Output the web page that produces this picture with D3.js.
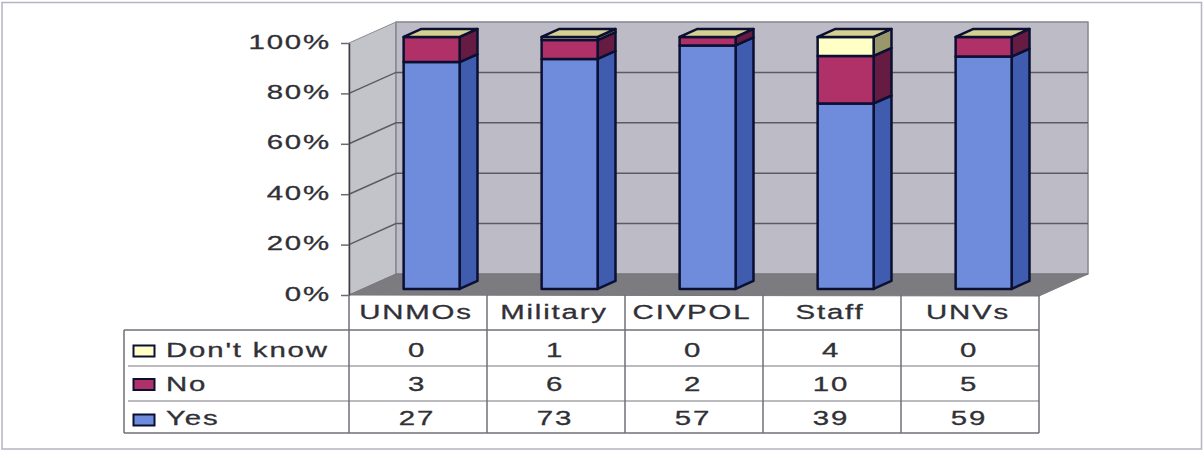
<!DOCTYPE html>
<html>
<head>
<meta charset="utf-8">
<style>
html,body{margin:0;padding:0;background:#fff;}
svg{display:block;}
text{font-family:"Liberation Sans",Arial,sans-serif;font-size:20px;fill:#303036;stroke:#303036;stroke-width:0.3px;letter-spacing:1.25px;}
</style>
<script src="https://cdn.jsdelivr.net/npm/d3@7/dist/d3.min.js"></script>
</head>
<body>
<svg id="chart" width="1203" height="451"></svg>
<script>
// Survey responses by personnel group
const categories = ["UNMOs", "Military", "CIVPOL", "Staff", "UNVs"];
const yesValues = [27, 73, 57, 39, 59];
const noValues = [3, 6, 2, 10, 5];
const dontKnowValues = [0, 1, 0, 4, 0];
const seriesNames = ["Yes", "No", "Don't know"];
const percentTicks = [0, 20, 40, 60, 80, 100];

const frontColors = {"Yes": "#6f8bdc", "No": "#b03068", "Don't know": "#ffffc6"};
const sideColors = {"Yes": "#3f5cae", "No": "#661c42", "Don't know": "#99986a"};
const topColor = "#d6d190";
const ink = "#0b1033";
const rule = "#6f6f78";

const svg = d3.select("#chart");

// Plot box: front plane plus the oblique depth vector of the 3-D walls
const plotLeft = 349, plotRight = 1039, plotBase = 295, plotTop = 43;
const depthX = 47, depthY = -21;
const barInset = 0.29, barDepth = 0.38, barWidth = 56;

const x = d3.scaleBand().domain(categories).range([plotLeft, plotRight]);
const y = d3.scaleLinear().domain([0, 100]).range([plotBase, plotTop]);

const poly = (pts, fill, stroke, width) => svg.append("polygon")
  .attr("points", pts.map(p => p.join(",")).join(" "))
  .attr("fill", fill)
  .attr("stroke", stroke || "none")
  .attr("stroke-width", width || 0)
  .attr("stroke-linejoin", "round");

// Page frame
svg.append("rect").attr("x", 2).attr("y", 2.5).attr("width", 1199.5).attr("height", 446.5)
  .attr("fill", "none").attr("stroke", "#b4b4c2").attr("stroke-width", 1.5);

// Walls and floor
poly([[plotLeft, y(0)], [plotLeft + depthX, y(0) + depthY], [plotLeft + depthX, y(100) + depthY], [plotLeft, y(100)]], "#c3c3ca", "#8b8b93", 1);
poly([[plotLeft + depthX, y(0) + depthY], [plotRight + depthX + 2, y(0) + depthY], [plotRight + depthX + 2, y(100) + depthY], [plotLeft + depthX, y(100) + depthY]], "#bdbcc6", "#85858e", 1.5);
poly([[plotLeft, y(0)], [plotRight, y(0) + 1], [plotRight + depthX + 2, y(0) + depthY], [plotLeft + depthX, y(0) + depthY]], "#7c7b80", "#77777c", 1);

// Gridlines wrap from the left wall onto the back wall
percentTicks.filter(t => t > 0 && t < 100).forEach(t => {
  svg.append("polyline")
    .attr("points", [[plotLeft, y(t)], [plotLeft + depthX, y(t) + depthY], [plotRight + depthX + 2, y(t) + depthY]].map(p => p.join(",")).join(" "))
    .attr("fill", "none").attr("stroke", "#5b5b62").attr("stroke-width", 1.5);
});

// Percentage axis
const axis = d3.axisLeft(y).tickValues(percentTicks).tickSize(8).tickSizeOuter(0).tickFormat(d => d + "%");
const axisG = svg.append("g").attr("transform", `translate(${plotLeft},0)`).call(axis);
axisG.attr("font-size", null).attr("font-family", null);
axisG.select(".domain").attr("stroke", "#3c3c44").attr("stroke-width", 1.5);
axisG.selectAll(".tick line").attr("stroke", "#6a6a72").attr("stroke-width", 1.5);
axisG.selectAll(".tick text")
  .attr("x", 0).attr("dy", 0).attr("y", 0)
  .attr("text-anchor", "end")
  .attr("transform", "translate(-18,5) scale(1.47,1)");

// Normalised stack of the three responses
const rows = categories.map((c, i) => ({
  category: c,
  "Yes": yesValues[i],
  "No": noValues[i],
  "Don't know": dontKnowValues[i]
}));
const stacked = d3.stack().keys(seriesNames).offset(d3.stackOffsetExpand)(rows);

categories.forEach((c, i) => {
  const fx = x(c) + x.bandwidth() / 2 + depthX * barInset - barWidth / 2;
  const lift = depthY * barInset;
  const dx = depthX * barDepth, dy = depthY * barDepth;
  stacked.forEach(layer => {
    const v0 = layer[i][0] * 100, v1 = layer[i][1] * 100;
    const yBase = y(v0) + lift, yTop = y(v1) + lift;
    if (v1 - v0 > 0) {
      poly([[fx + barWidth, yBase], [fx + barWidth + dx, yBase + dy], [fx + barWidth + dx, yTop + dy], [fx + barWidth, yTop]], sideColors[layer.key], ink, 2.5);
      poly([[fx, yBase], [fx + barWidth, yBase], [fx + barWidth, yTop], [fx, yTop]], frontColors[layer.key], ink, 2.5);
    }
  });
  const yCap = y(100) + lift;
  poly([[fx, yCap], [fx + barWidth, yCap], [fx + barWidth + dx, yCap + dy], [fx + dx, yCap + dy]], topColor, ink, 2.5);
});

// Data table beneath the plot
const tableLeft = 124;
const rowEdges = [plotBase, 330, 366, 401, 433];
const colEdges = categories.map(c => x(c)).concat(plotRight);
const tableLine = (x1, y1, x2, y2) => svg.append("line")
  .attr("x1", x1).attr("y1", y1).attr("x2", x2).attr("y2", y2)
  .attr("stroke", rule).attr("stroke-width", 1.5);

tableLine(plotLeft, rowEdges[1], plotRight, rowEdges[1]);
tableLine(tableLeft, rowEdges[1], plotLeft, rowEdges[1]);
tableLine(tableLeft, rowEdges[4], plotRight, rowEdges[4]);
tableLine(tableLeft, rowEdges[1], tableLeft, rowEdges[4]);
tableLine(tableLeft + 4, rowEdges[2], plotRight, rowEdges[2]).attr("stroke", "#a4a4aa");
tableLine(tableLeft + 4, rowEdges[3], plotRight, rowEdges[3]).attr("stroke", "#a4a4aa");
colEdges.forEach(cx => tableLine(cx, rowEdges[0], cx, rowEdges[4]));

const wideText = (tx, ty, str, anchor) => svg.append("text")
  .attr("text-anchor", anchor)
  .attr("transform", `translate(${tx},${ty}) scale(1.47,1)`)
  .text(str);

categories.forEach(c => wideText(x(c) + x.bandwidth() / 2 - 2, 319, c, "middle"));

const tableRows = [
  {name: "Don't know", values: dontKnowValues, baseline: 356.5, key: 345.5},
  {name: "No", values: noValues, baseline: 390.5, key: 379},
  {name: "Yes", values: yesValues, baseline: 425, key: 414.5}
];
tableRows.forEach(r => {
  svg.append("rect")
    .attr("x", 133.5).attr("y", r.key).attr("width", 21).attr("height", 11)
    .attr("fill", frontColors[r.name]).attr("stroke", ink).attr("stroke-width", 2);
  wideText(166, r.baseline, r.name, "start");
  r.values.forEach((v, j) => wideText(x(categories[j]) + x.bandwidth() / 2 - 1, r.baseline, v, "middle"));
});
</script>
</body>
</html>
